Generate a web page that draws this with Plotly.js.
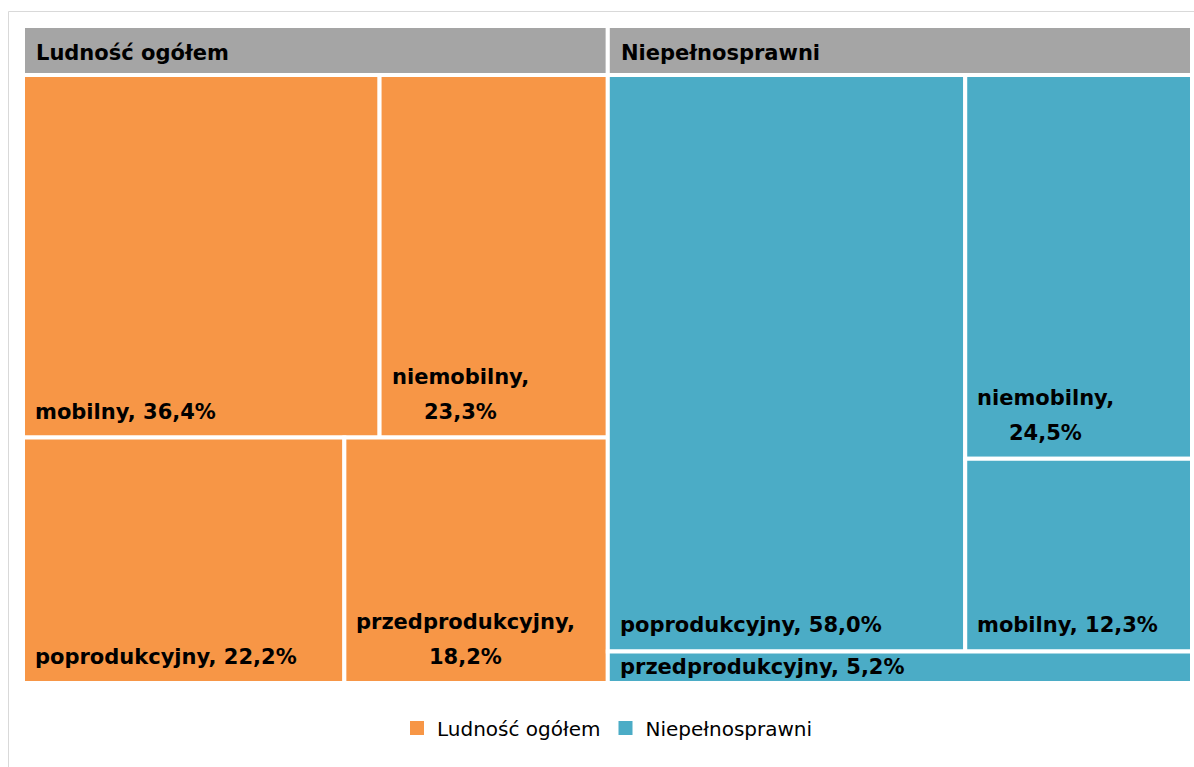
<!DOCTYPE html>
<html><head><meta charset="utf-8">
<script src="https://cdn.plot.ly/plotly-3.0.1.min.js"></script>
<style>html,body{margin:0;padding:0;background:#fff}#chart{width:1194px;height:767px}</style>
</head><body><div id="chart"></div>
<script>
// ---- Data ----
const groupNames = ['Ludność ogółem', 'Niepełnosprawni'];
const groupColors = ['#F79646', '#4BACC6'];
const ludCategories = ['mobilny', 'niemobilny', 'poprodukcyjny', 'przedprodukcyjny'];
const ludValues = [36.4, 23.3, 22.2, 18.2];
const niepCategories = ['poprodukcyjny', 'niemobilny', 'mobilny', 'przedprodukcyjny'];
const niepValues = [58.0, 24.5, 12.3, 5.2];
// tiling arrangement: nesting of item indices (rows, then columns, alternately)
const ludArrangement = [[0, 1], [2, 3]];
const niepArrangement = [[0, [1, 2]], [3]];

const groups = [
  {name: groupNames[0], color: groupColors[0], cats: ludCategories, vals: ludValues, arr: ludArrangement},
  {name: groupNames[1], color: groupColors[1], cats: niepCategories, vals: niepValues, arr: niepArrangement}
];

// ---- geometry ----
const M = {l: 23, r: 2, t: 26, b: 84};
const plotW = 1194 - M.l - M.r, plotH = 767 - M.t - M.b;
const headerPx = 49, contentPx = plotH - headerPx;
const hdr = headerPx / contentPx;
const yTop = 1 + hdr;
const xTotal = groups.reduce((s, g) => s + g.vals.reduce((a, b) => a + b, 0), 0);
const pxX = d => M.l + d / xTotal * plotW;
const pxY = d => M.t + (yTop - d) / yTop * plotH;
const paperX = px => (px - M.l) / plotW;
const paperY = px => (M.t + plotH - px) / plotH;

function nodeValue(node, vals) {
  return Array.isArray(node) ? node.reduce((s, n) => s + nodeValue(n, vals), 0) : vals[node];
}
function tile(node, vals, x0, y0, x1, y1, depth, out) {
  if (!Array.isArray(node)) { out[node] = {x0, y0, x1, y1}; return; }
  const total = nodeValue(node, vals);
  if (depth % 2 === 0) {
    let top = y1;
    node.forEach(ch => { const h = (y1 - y0) * nodeValue(ch, vals) / total; tile(ch, vals, x0, top - h, x1, top, depth + 1, out); top -= h; });
  } else {
    let left = x0;
    node.forEach(ch => { const w = (x1 - x0) * nodeValue(ch, vals) / total; tile(ch, vals, left, y0, left + w, y1, depth + 1, out); left += w; });
  }
}

const FONT = 'DejaVu Sans';
const LBL = 21;
const ctx = document.createElement('canvas').getContext('2d');
ctx.font = 'bold ' + LBL + 'px "' + FONT + '"';
const measure = s => ctx.measureText(s).width;
const fmt = v => v.toFixed(1).replace('.', ',') + '%';

const traces = [], annotations = [];
const hdrX = [], hdrW = [];
let gx = 0;
groups.forEach((g, gi) => {
  const gTotal = g.vals.reduce((a, b) => a + b, 0);
  const rects = [];
  tile(g.arr, g.vals, gx, 0, gx + gTotal, 1, 0, rects);
  hdrX.push(gx + gTotal / 2); hdrW.push(gTotal);
  annotations.push({x: gx, y: 1 + hdr / 2, xref: 'x', yref: 'y', xanchor: 'left', yanchor: 'middle',
    xshift: 11, yshift: -2, showarrow: false, text: '<b>' + g.name + '</b>',
    font: {family: FONT, size: LBL, color: '#000'}});
  traces.push({
    type: 'bar', name: g.name, showlegend: false, hoverinfo: 'skip',
    x: rects.map(r => (r.x0 + r.x1) / 2), width: rects.map(r => r.x1 - r.x0),
    base: rects.map(r => r.y0), y: rects.map(r => r.y1 - r.y0),
    marker: {color: g.color, line: {color: '#fff', width: 4}}
  });
  rects.forEach((r, i) => {
    const wPx = pxX(r.x1) - pxX(r.x0) - 4;
    const hPx = pxY(r.y0) - pxY(r.y1) - 4;
    const pad = 10;
    const one = g.cats[i] + ', ' + fmt(g.vals[i]);
    const lines = measure(one) <= wPx - 2 * pad ? [one] : [g.cats[i] + ',', fmt(g.vals[i])];
    const blockW = Math.max(...lines.map(measure));
    const gap = 35;
    const short = hPx < lines.length * gap + 30;
    const baseShift = short ? 2 : 12;
    lines.forEach((ln, li) => {
      const k = lines.length - 1 - li;
      annotations.push({x: r.x0, y: r.y0, xref: 'x', yref: 'y', xanchor: 'center', yanchor: 'bottom',
        xshift: 2 + pad + blockW / 2, yshift: baseShift + k * gap, showarrow: false,
        text: '<b>' + ln + '</b>', font: {family: FONT, size: LBL, color: '#000'}});
    });
  });
  gx += gTotal;
});
traces.push({type: 'bar', name: 'header', showlegend: false, hoverinfo: 'skip',
  x: hdrX, width: hdrW, base: hdrX.map(() => 1), y: hdrX.map(() => hdr),
  marker: {color: '#A5A5A5', line: {color: '#fff', width: 4}}});
groups.forEach(g => traces.push({type: 'scatter', mode: 'markers', name: g.name, x: [null], y: [null],
  marker: {symbol: 'square', size: 14, color: g.color}, hoverinfo: 'skip'}));

const layout = {
  width: 1194, height: 767, margin: M, paper_bgcolor: '#fff', plot_bgcolor: '#fff',
  barmode: 'overlay', hovermode: false,
  xaxis: {range: [0, xTotal], visible: false, fixedrange: true},
  yaxis: {range: [0, yTop], visible: false, fixedrange: true},
  showlegend: true,
  legend: {orientation: 'h', x: 0.5, xanchor: 'center', y: paperY(728), yanchor: 'middle',
    font: {family: FONT, size: 20, color: '#000'}, itemclick: false, itemdoubleclick: false},
  annotations: annotations,
  shapes: [
    {type: 'line', xref: 'paper', yref: 'paper', x0: paperX(8.5), x1: paperX(8.5), y0: paperY(11.5), y1: paperY(800), line: {color: '#D9D9D9', width: 1}},
    {type: 'line', xref: 'paper', yref: 'paper', x0: paperX(8.5), x1: paperX(1210), y0: paperY(11.5), y1: paperY(11.5), line: {color: '#D9D9D9', width: 1}}
  ]
};
Plotly.newPlot('chart', traces, layout, {displayModeBar: false, staticPlot: true});
</script></body></html>
